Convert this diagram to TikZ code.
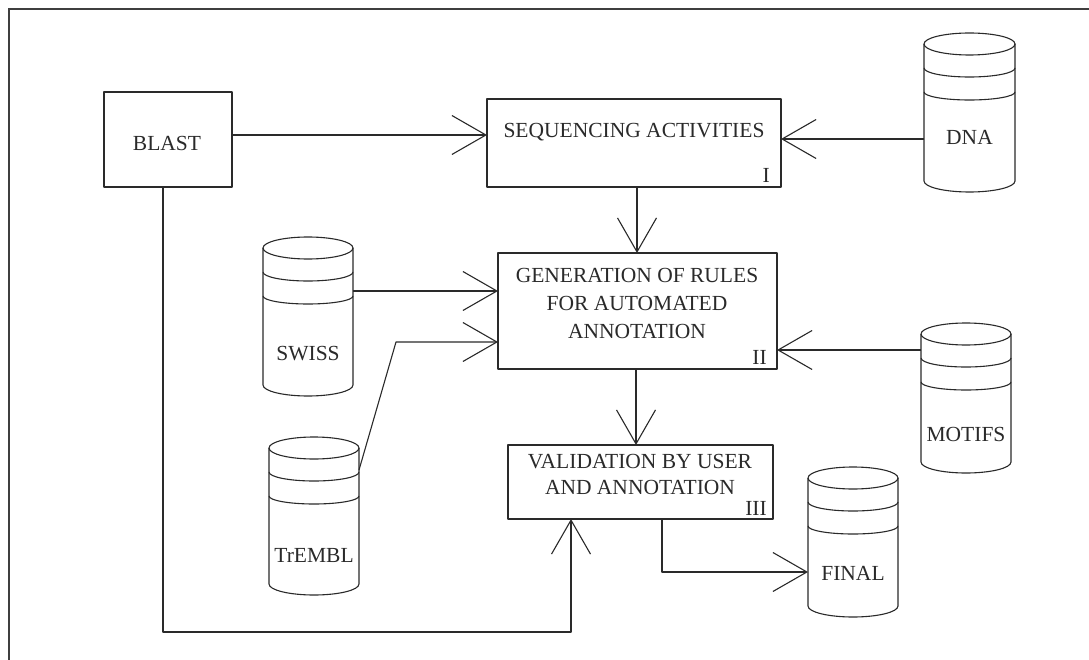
\documentclass[tikz,border=0pt]{standalone}
\usepackage{fontspec}
\setmainfont{Liberation Serif}
\usetikzlibrary{arrows.meta}
\definecolor{ink}{HTML}{2A2A2A}
\tikzset{
  ln/.style={draw=ink, line width=1.1pt, line join=round},
  box/.style={ln, inner sep=0pt, outer sep=0pt, anchor=north west},
  lbl/.style={font=\fontsize{21.5}{24}\selectfont, text=ink, inner sep=0pt, anchor=base},
  num/.style={font=\fontsize{21.5}{24}\selectfont, text=ink, inner sep=0pt, anchor=base east},
  arr/.style={ln, -{Straight Barb[length=34pt,width=39pt,line width=1.1pt]}},
}
\newcommand{\mycyl}[7]{%
  \node[inner sep=0pt, outer sep=0pt, minimum width=#4pt, minimum height=#5pt, anchor=north west] (#1) at (#2,#3) {};
  \draw[ln] ({#2+#4/2},{#3+11}) ellipse [x radius={#4/2}, y radius=11];
  \draw[ln] (#2,{#3+11}) -- (#2,{#3+#5-11}) arc[start angle=180, end angle=0, x radius={#4/2}, y radius=11] -- ({#2+#4},{#3+11});
  \draw[ln] (#2,{#3+35}) arc[start angle=180, end angle=0, x radius={#4/2}, y radius=9];
  \draw[ln] (#2,{#3+59}) arc[start angle=180, end angle=0, x radius={#4/2}, y radius=8];
  \node[lbl] (#1-t) at ({#2+#4/2},#7) {#6};
}
\begin{document}
\begin{tikzpicture}[x=1pt,y=-1pt]
\useasboundingbox (0,0) rectangle (1089,660);
\fill[white] (0,0) rectangle (1089,660);
\draw[draw=ink!90, line width=1.5pt] (9,662) -- (9,9) -- (1092,9);

% boxes
\node[box, minimum width=128pt, minimum height=95pt] (blast) at (104,92) {};
\node[lbl] (blast-t) at (167,151) {BLAST};
\node[box, minimum width=294pt, minimum height=88pt] (seq) at (487,99) {};
\node[lbl] (seq-t) at (634,138) {SEQUENCING ACTIVITIES};
\node[num] (seq-n) at (770,183) {I};
\node[box, minimum width=279pt, minimum height=116pt] (gen) at (498,253) {};
\node[lbl] (gen-t1) at (637,283) {GENERATION OF RULES};
\node[lbl] (gen-t2) at (637,310) {FOR AUTOMATED};
\node[lbl] (gen-t3) at (637,338) {ANNOTATION};
\node[num] (gen-n) at (767,364) {II};
\node[box, minimum width=265pt, minimum height=74pt] (val) at (508,445) {};
\node[lbl] (val-t1) at (640,468) {VALIDATION BY USER};
\node[lbl] (val-t2) at (640,494) {AND ANNOTATION};
\node[num] (val-n) at (767,515) {III};

% databases
\mycyl{dna}{924}{33}{91}{159}{DNA}{145}
\mycyl{swiss}{263}{237}{90}{159}{SWISS}{360}
\mycyl{trembl}{269}{437}{90}{158}{TrEMBL}{562}
\mycyl{motifs}{921}{323}{90}{150}{MOTIFS}{441}
\mycyl{final}{808}{467}{90}{150}{FINAL}{580}

% connectors
\coordinate (bend) at (396,342);
\coordinate (c1) at (662,572);
\coordinate (c2) at (163,632);
\coordinate (c3) at (571,632);
\draw[arr] (blast.east |- 0,135) -- (seq.west |- 0,135);
\draw[arr] (dna.west |- 0,139) -- (seq.east |- 0,139);
\draw[arr] (seq.south -| 637,0) -- (gen.north -| 637,0);
\draw[arr] (swiss.east |- 0,291) -- (gen.west |- 0,291);
\draw[arr] (trembl.east |- 0,470) -- (bend) -- (gen.west |- bend);
\draw[arr] (motifs.west |- 0,350) -- (gen.east |- 0,350);
\draw[arr] (gen.south -| 636,0) -- (val.north -| 636,0);
\draw[arr] (val.south -| c1) -- (c1) -- (final.west |- c1);
\draw[arr] (blast.south -| c2) -- (c2) -- (c3) -- (val.south -| c3);
\end{tikzpicture}
\end{document}
